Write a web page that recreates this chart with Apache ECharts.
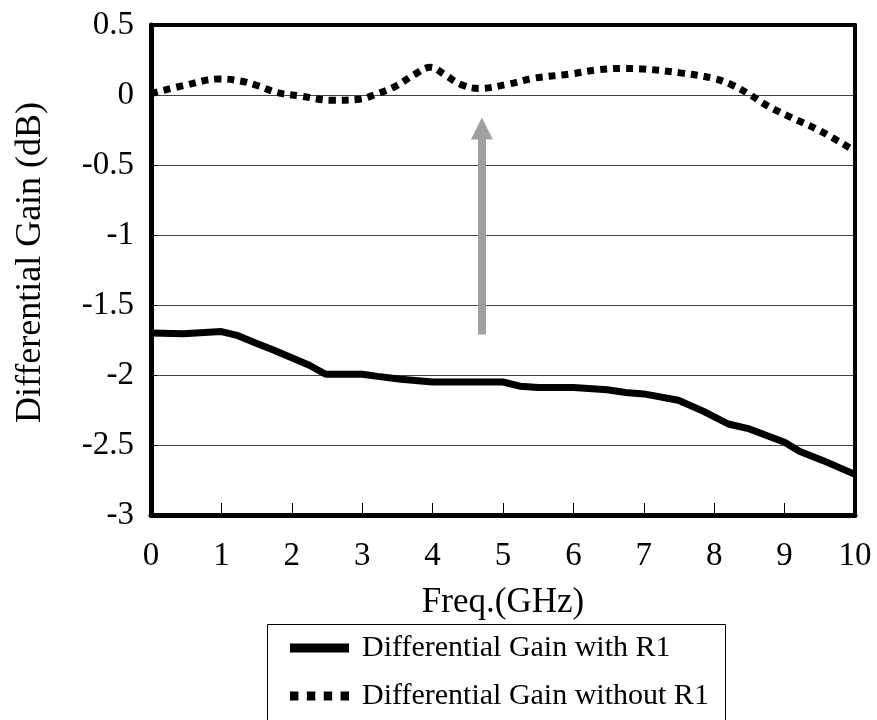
<!DOCTYPE html>
<html>
<head>
<meta charset="utf-8">
<script src="https://cdn.jsdelivr.net/npm/echarts@6/dist/echarts.min.js"></script>
<style>html,body{margin:0;padding:0;background:#fff}#c{width:877px;height:720px}</style>
</head>
<body>
<div id="c"></div>
<script>
const withR1X = [0, 0.46, 1, 1.21, 1.53, 1.73, 2.25, 2.48, 3, 3.22, 3.55, 4, 5, 5.24, 5.5, 6, 6.48, 6.74, 7, 7.49, 7.85, 8.2, 8.5, 9, 9.21, 9.54, 10];
const withR1Y = [-1.70, -1.705, -1.69, -1.715, -1.78, -1.82, -1.93, -1.995, -1.995, -2.01, -2.03, -2.05, -2.05, -2.08, -2.09, -2.09, -2.105, -2.125, -2.135, -2.18, -2.26, -2.35, -2.385, -2.48, -2.545, -2.61, -2.71];
const withoutR1X = [0, 0.49, 0.98, 1.27, 1.53, 1.79, 2.12, 2.57, 2.96, 3.22, 3.48, 3.74, 3.97, 4.17, 4.4, 4.66, 5.05, 5.44, 5.96, 6.35, 6.74, 7.0, 7.52, 7.98, 8.24, 8.5, 8.76, 9.09, 9.48, 10];
const withoutR1Y = [0.01, 0.07, 0.115, 0.10, 0.064, 0.017, -0.007, -0.038, -0.03, 0.01, 0.064, 0.146, 0.198, 0.146, 0.075, 0.047, 0.075, 0.12, 0.15, 0.18, 0.19, 0.186, 0.158, 0.12, 0.075, 0.005, -0.078, -0.16, -0.25, -0.40];
const arrowFrom = [4.7, -1.71];
const arrowTo = [4.7, -0.24];
const seriesNames = ['Differential Gain with R1', 'Differential Gain without R1'];
const xName = 'Freq.(GHz)';
const yName = 'Differential Gain (dB)';

const zip = (xs, ys) => xs.map((x, i) => [x, ys[i]]);
const font = 'Liberation Serif';
const frameAxis = { show: true, onZero: false, lineStyle: { color: '#000', width: 4 } };

const legendCommon = {
  orient: 'vertical', left: 290, padding: 0,
  itemWidth: 59, itemHeight: 9, symbolKeepAspect: false,
  textStyle: { fontFamily: font, fontSize: 30, color: '#000', padding: [0, 0, 0, 8] }
};

const chart = echarts.init(document.getElementById('c'));
chart.setOption({
  animation: false,
  backgroundColor: '#fff',
  grid: { left: 151, right: 22, top: 25, bottom: 205, show: false, containLabel: false, outerBoundsMode: 'none' },
  xAxis: [{
    type: 'value', min: 0, max: 10, interval: 1,
    name: xName, nameLocation: 'middle', nameGap: 70,
    nameTextStyle: { fontFamily: font, fontSize: 35, color: '#000' },
    axisLine: { show: true, onZero: false, lineStyle: { color: '#000', width: 5 } },
    axisTick: { show: true, inside: true, length: 12, lineStyle: { color: '#000', width: 1 } },
    axisLabel: { fontFamily: font, fontSize: 33, color: '#000', margin: 25 },
    splitLine: { show: false }
  }, {
    type: 'value', min: 0, max: 10, interval: 1, position: 'top',
    axisLine: frameAxis, axisTick: { show: false }, axisLabel: { show: false }, splitLine: { show: false }
  }],
  yAxis: [{
    type: 'value', min: -3, max: 0.5, interval: 0.5,
    name: yName, nameLocation: 'middle', nameGap: 102,
    nameTextStyle: { fontFamily: font, fontSize: 36, color: '#000', padding: [0, 0, 0, 15] },
    axisLine: { show: true, onZero: false, lineStyle: { color: '#000', width: 5 } },
    axisTick: { show: true, inside: true, length: 6, lineStyle: { color: '#000', width: 1 } },
    axisLabel: { fontFamily: font, fontSize: 33, color: '#000', margin: 17 },
    splitLine: { show: true, lineStyle: { color: '#444', width: 1 } }
  }, {
    type: 'value', min: -3, max: 0.5, interval: 0.5, position: 'right',
    axisLine: frameAxis, axisTick: { show: false }, axisLabel: { show: false }, splitLine: { show: false }
  }],
  legend: [
    Object.assign({}, legendCommon, { top: 633, data: [{ name: seriesNames[0], icon: 'rect' }] }),
    Object.assign({}, legendCommon, { top: 681, data: [{ name: seriesNames[1], icon: 'path://M0,0h8v8h-8z M16,0h8v8h-8z M32,0h8v8h-8z M48,0h8v8h-8z' }] })
  ],
  graphic: [{
    type: 'rect', left: 265, top: 622, silent: true,
    shape: { width: 458, height: 110 },
    style: { fill: 'none', stroke: '#000', lineWidth: 1 }
  }],
  series: [
    {
      name: seriesNames[0], type: 'line', data: zip(withR1X, withR1Y),
      showSymbol: false, symbol: 'none', smooth: false,
      lineStyle: { color: '#000', width: 7 },
      itemStyle: { color: '#000' },
      markLine: {
        silent: true, symbol: ['none', 'triangle'], symbolSize: [22, 22],
        label: { show: false },
        lineStyle: { color: '#a0a0a0', width: 8, type: 'solid' },
        data: [[{ coord: arrowFrom }, { coord: arrowTo }]]
      }
    },
    {
      name: seriesNames[1], type: 'line', data: zip(withoutR1X, withoutR1Y),
      showSymbol: false, symbol: 'none', smooth: 0.4,
      lineStyle: { color: '#000', width: 7, type: [7, 6] },
      itemStyle: { color: '#000' }
    }
  ]
});
</script>
</body>
</html>
